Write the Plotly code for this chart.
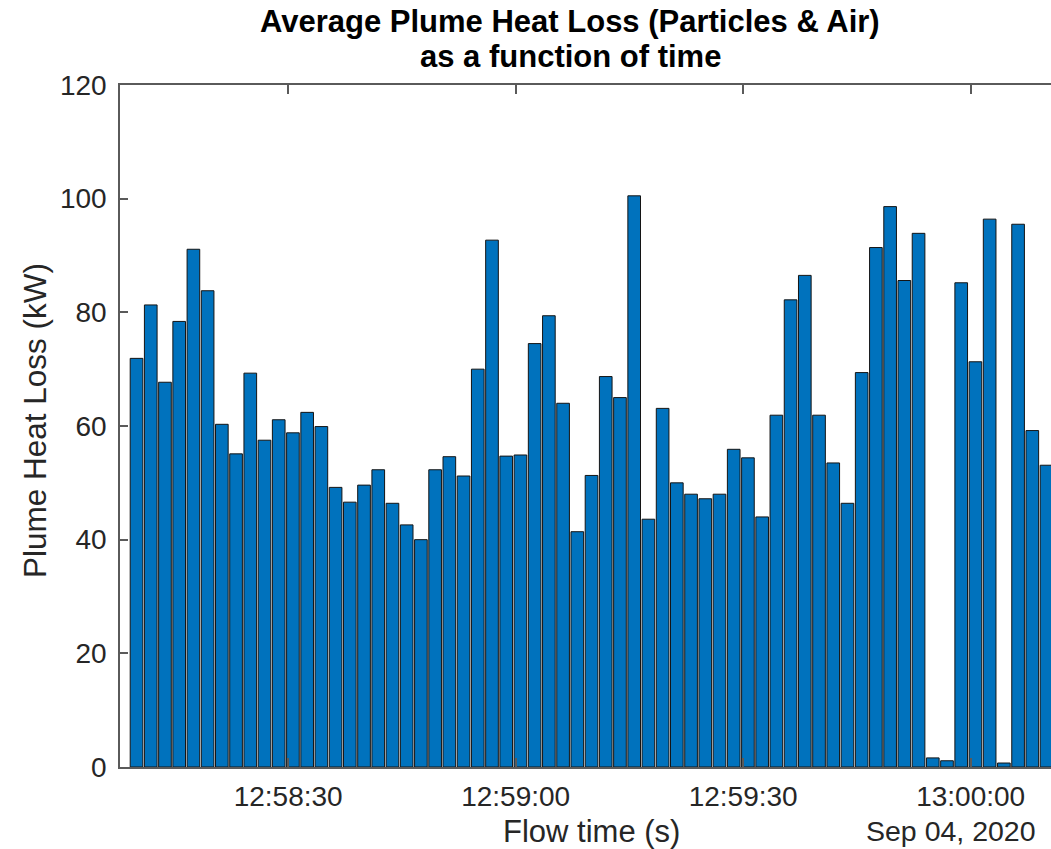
import plotly.graph_objects as go

# Sample times (Sep 04, 2020) and averaged plume heat loss in kW
times = [
    "2020-09-04 12:58:10.000", "2020-09-04 12:58:11.875", "2020-09-04 12:58:13.750",
    "2020-09-04 12:58:15.625", "2020-09-04 12:58:17.500", "2020-09-04 12:58:19.375",
    "2020-09-04 12:58:21.250", "2020-09-04 12:58:23.125", "2020-09-04 12:58:25.000",
    "2020-09-04 12:58:26.875", "2020-09-04 12:58:28.750", "2020-09-04 12:58:30.625",
    "2020-09-04 12:58:32.500", "2020-09-04 12:58:34.375", "2020-09-04 12:58:36.250",
    "2020-09-04 12:58:38.125", "2020-09-04 12:58:40.000", "2020-09-04 12:58:41.875",
    "2020-09-04 12:58:43.750", "2020-09-04 12:58:45.625", "2020-09-04 12:58:47.500",
    "2020-09-04 12:58:49.375", "2020-09-04 12:58:51.250", "2020-09-04 12:58:53.125",
    "2020-09-04 12:58:55.000", "2020-09-04 12:58:56.875", "2020-09-04 12:58:58.750",
    "2020-09-04 12:59:00.625", "2020-09-04 12:59:02.500", "2020-09-04 12:59:04.375",
    "2020-09-04 12:59:06.250", "2020-09-04 12:59:08.125", "2020-09-04 12:59:10.000",
    "2020-09-04 12:59:11.875", "2020-09-04 12:59:13.750", "2020-09-04 12:59:15.625",
    "2020-09-04 12:59:17.500", "2020-09-04 12:59:19.375", "2020-09-04 12:59:21.250",
    "2020-09-04 12:59:23.125", "2020-09-04 12:59:25.000", "2020-09-04 12:59:26.875",
    "2020-09-04 12:59:28.750", "2020-09-04 12:59:30.625", "2020-09-04 12:59:32.500",
    "2020-09-04 12:59:34.375", "2020-09-04 12:59:36.250", "2020-09-04 12:59:38.125",
    "2020-09-04 12:59:40.000", "2020-09-04 12:59:41.875", "2020-09-04 12:59:43.750",
    "2020-09-04 12:59:45.625", "2020-09-04 12:59:47.500", "2020-09-04 12:59:49.375",
    "2020-09-04 12:59:51.250", "2020-09-04 12:59:53.125", "2020-09-04 12:59:55.000",
    "2020-09-04 12:59:56.875", "2020-09-04 12:59:58.750", "2020-09-04 13:00:00.625",
    "2020-09-04 13:00:02.500", "2020-09-04 13:00:04.375", "2020-09-04 13:00:06.250",
    "2020-09-04 13:00:08.125", "2020-09-04 13:00:10.000",
]

heat_loss_kw = [
    71.9, 81.3, 67.7, 78.4, 91.1, 83.8, 60.3, 55.1, 69.3, 57.5,
    61.1, 58.8, 62.4, 59.9, 49.2, 46.6, 49.6, 52.3, 46.4, 42.6,
    40.0, 52.3, 54.6, 51.2, 70.0, 92.7, 54.7, 54.9, 74.5, 79.4,
    64.0, 41.4, 51.3, 68.7, 65.0, 100.5, 43.6, 63.1, 50.0, 48.0,
    47.2, 48.0, 55.9, 54.4, 44.0, 61.9, 82.2, 86.5, 61.9, 53.5,
    46.4, 69.4, 91.4, 98.6, 85.6, 93.9, 1.6, 1.1, 85.2, 71.3,
    96.4, 0.7, 95.5, 59.2, 53.1,
]

tick_times = [
    "2020-09-04 12:58:30", "2020-09-04 12:59:00",
    "2020-09-04 12:59:30", "2020-09-04 13:00:00",
]
tick_labels = ["12:58:30", "12:59:00", "12:59:30", "13:00:00"]
y_ticks = [0, 20, 40, 60, 80, 100, 120]

title_lines = ["Average Plume Heat Loss (Particles & Air)", "as a function of time"]

FONT = "Liberation Sans, Arial, Helvetica, sans-serif"
TXT = "#262626"
AX = "#5a5a5a"

# plot area in pixels: left 120, right 1051, top 85, bottom 767
PL, PR, PT, PB = 120, 1051, 85, 767


def px_x(x):
    return (x - PL) / (PR - PL)


def px_y(y):
    return (PB - y) / (PB - PT)


fig = go.Figure(
    go.Bar(
        x=times,
        y=heat_loss_kw,
        marker=dict(color="#0072BD", line=dict(color="#141414", width=1)),
    )
)

fig.update_layout(
    width=1051,
    height=849,
    margin=dict(l=PL, r=1051 - PR, t=PT, b=849 - PB),
    plot_bgcolor="white",
    paper_bgcolor="white",
    bargap=0.11,
    showlegend=False,
    font=dict(family=FONT, color=TXT),
)

fig.update_xaxes(
    type="date",
    range=["2020-09-04 12:58:07.82", "2020-09-04 13:00:10.59"],
    tickmode="array",
    tickvals=tick_times,
    ticktext=tick_labels,
    ticks="inside",
    ticklen=9,
    tickwidth=1.5,
    tickcolor=AX,
    showline=True,
    linecolor=AX,
    linewidth=1.5,
    mirror="ticks",
    showgrid=False,
    zeroline=False,
    tickfont=dict(family=FONT, size=28, color=TXT),
    ticklabelstandoff=4,
)

fig.update_yaxes(
    range=[0, 120],
    tickmode="array",
    tickvals=y_ticks,
    ticks="inside",
    ticklen=8,
    tickwidth=1.5,
    tickcolor=AX,
    showline=True,
    linecolor=AX,
    linewidth=1.5,
    mirror=False,
    showgrid=False,
    zeroline=False,
    tickfont=dict(family=FONT, size=28, color=TXT),
    ticklabelstandoff=6,
)

# Two-line bold title, one annotation per line
for line, yc in zip(title_lines, [21, 56.5]):
    fig.add_annotation(
        text=f"<b>{line}</b>",
        xref="paper", yref="paper",
        x=px_x(570), y=px_y(yc),
        xanchor="center", yanchor="middle",
        showarrow=False,
        borderpad=0,
        font=dict(family=FONT, size=31, color="#000000"),
    )

# Axis titles
fig.add_annotation(
    text="Flow time (s)",
    xref="paper", yref="paper",
    x=px_x(591), y=px_y(831),
    xanchor="center", yanchor="middle",
    showarrow=False,
    font=dict(family=FONT, size=31, color=TXT),
)
fig.add_annotation(
    text="Plume Heat Loss (kW)",
    xref="paper", yref="paper",
    x=px_x(35), y=px_y(421),
    xanchor="center", yanchor="middle",
    textangle=-90,
    showarrow=False,
    font=dict(family=FONT, size=31.5, color=TXT),
)

# Date stamp under the time axis
fig.add_annotation(
    text="Sep 04, 2020",
    xref="paper", yref="paper",
    x=px_x(951), y=px_y(831),
    xanchor="center", yanchor="middle",
    showarrow=False,
    font=dict(family=FONT, size=28.5, color=TXT),
)

fig.write_html("out.html")
